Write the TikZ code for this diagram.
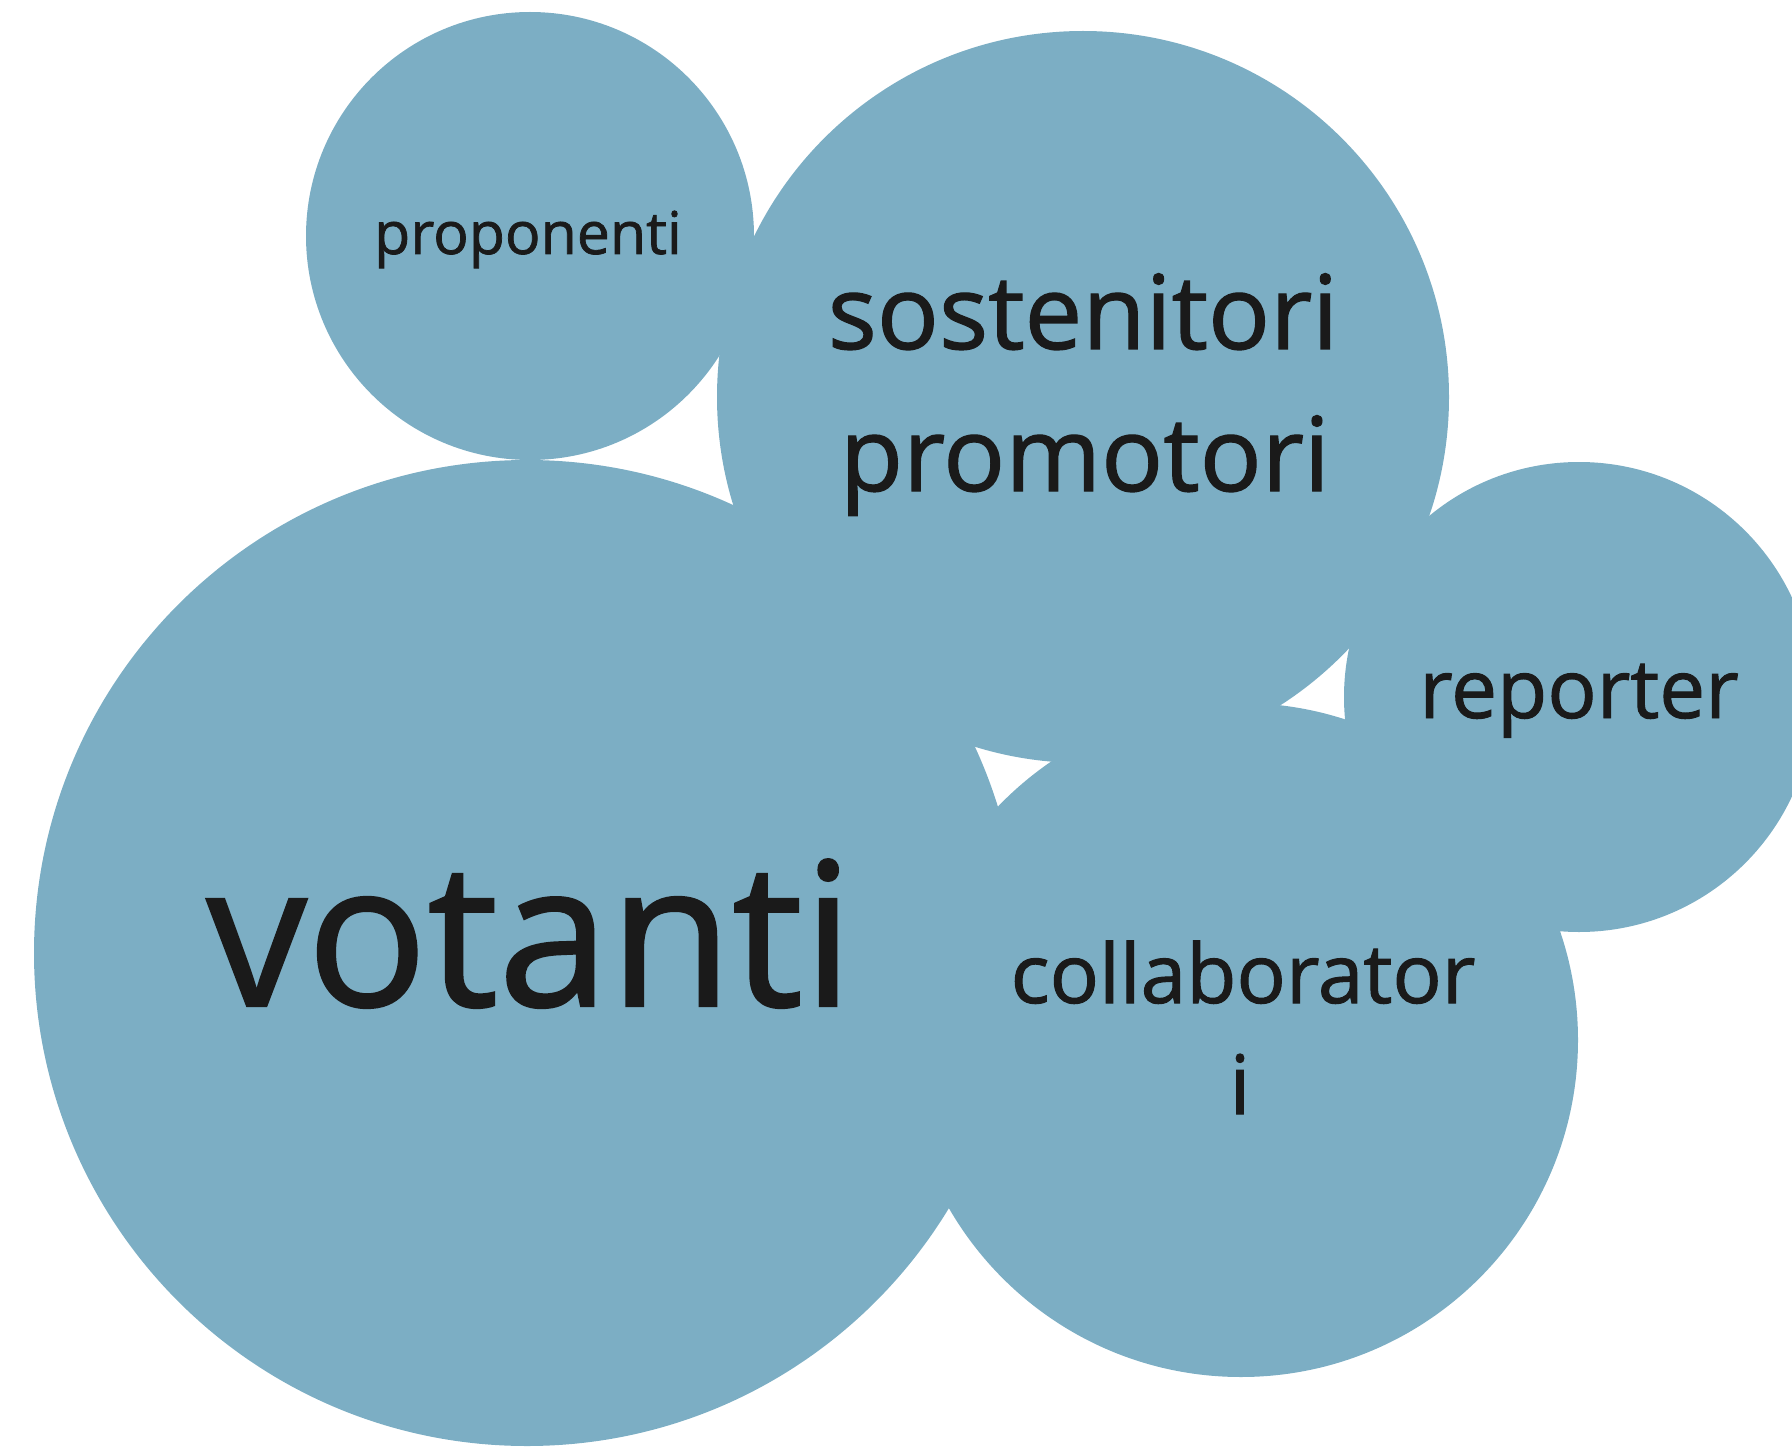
\documentclass[tikz,border=0pt]{standalone}
\usepackage{fontspec}
\setmainfont{Open Sans}[FakeBold=1.2]
\definecolor{bubblecol}{RGB}{124,174,196}
\definecolor{inkcol}{RGB}{26,26,26}
\begin{document}
\begin{tikzpicture}[x=1pt,y=-1pt,
  bubble/.style={circle, fill=bubblecol, draw=none, inner sep=0pt, outer sep=0pt, minimum size=#1},
  lbl/.style={anchor=base, text=inkcol, inner sep=0pt, outer sep=0pt}]
\clip (0,0) rectangle (1792,1447);
% bubbles
\node[bubble=448pt] (proponenti) at (530,236) {};
\node[bubble=732pt] (sostenitori) at (1083,397) {};
\node[bubble=470pt] (reporter) at (1579,697) {};
\node[bubble=986pt] (votanti) at (527,953) {};
\node[bubble=674pt] (collaboratori) at (1241,1040) {};
% labels
\node[lbl, font=\fontsize{59}{80}\selectfont] (tproponenti) at (528,254) {proponenti};
\node[lbl, font=\fontsize{103}{140}\selectfont] (tsostenitori) at (1083,349) {sostenitori};
\node[lbl, font=\fontsize{103}{140}\selectfont] (tpromotori) at (1085,491) {promotori};
\node[lbl, font=\fontsize{200}{270}\selectfont] (tvotanti) at (530,1006) {votanti};
\node[lbl, font=\fontsize{82}{110}\selectfont] (treporter) at (1579,718) {reporter};
\node[lbl, font=\fontsize{82}{110}\selectfont] (tcollab1) at (1243,1003) {collaborator};
\node[lbl, font=\fontsize{82}{110}\selectfont] (tcollab2) at (1240,1114) {i};
\end{tikzpicture}
\end{document}
